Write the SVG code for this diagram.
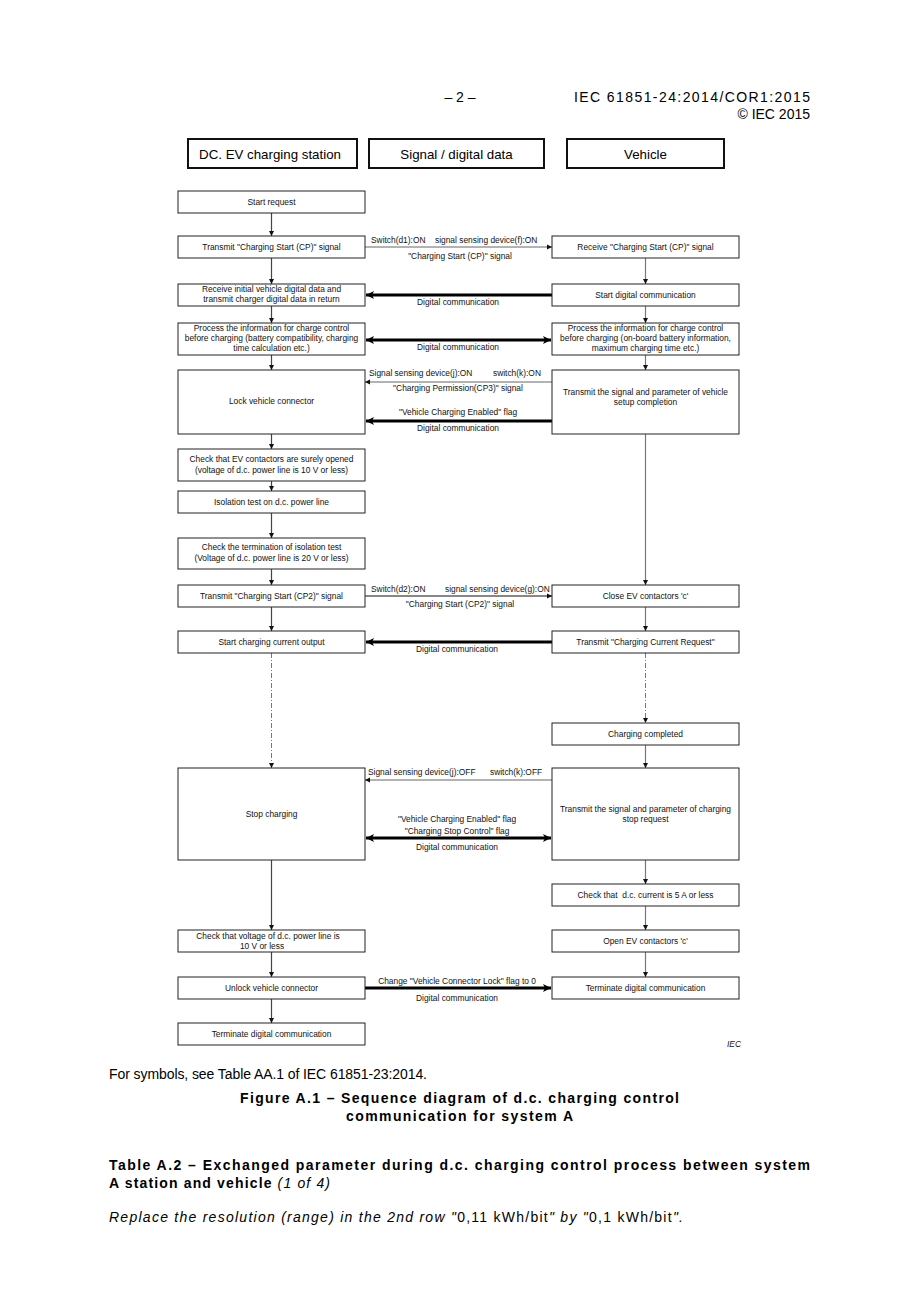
<svg xmlns="http://www.w3.org/2000/svg" width="920" height="1302" viewBox="0 0 920 1302">
<style>
.bg{fill:#fff}
.box{fill:#fff;stroke:#222;stroke-width:1}
.hdr{fill:#fff;stroke:#111;stroke-width:2}
.t{font-family:"Liberation Sans",Arial,sans-serif;font-size:8.4px;fill:#111;text-anchor:middle}
.l{font-family:"Liberation Sans",Arial,sans-serif;font-size:8.4px;fill:#111}
.h{font-family:"Liberation Sans",Arial,sans-serif;font-size:13.3px;fill:#000;text-anchor:middle}
.pg{font-family:"Liberation Sans",Arial,sans-serif;font-size:14px;fill:#000}
.fl{stroke:#444;stroke-width:1.2;fill:none;marker-end:url(#ah)}
.flr{stroke:#777;stroke-width:1.2;fill:none;marker-end:url(#ah)}
.dd{stroke:#777;stroke-width:1;fill:none;stroke-dasharray:5 2 1 2;marker-end:url(#ah)}
.sig{stroke:#666;stroke-width:1;fill:none;marker-end:url(#ah)}
.sigd{stroke:#111;stroke-width:1.2;fill:none;marker-end:url(#ah)}
.dig{stroke:#000;stroke-width:3;fill:none;marker-end:url(#ahb)}
.dig2{stroke:#000;stroke-width:3;fill:none;marker-end:url(#ahb);marker-start:url(#ahbs)}
</style>
<defs>
<marker id="ah" markerUnits="userSpaceOnUse" markerWidth="6" markerHeight="6" refX="5" refY="3" orient="auto"><path d="M0,0.5 L5,3 L0,5.5 z" fill="#111"/></marker>
<marker id="ahb" markerUnits="userSpaceOnUse" markerWidth="10" markerHeight="10" refX="8" refY="5" orient="auto"><path d="M0,1 L8,5 L0,9 L2,5 z" fill="#000"/></marker>
<marker id="ahbs" markerUnits="userSpaceOnUse" markerWidth="10" markerHeight="10" refX="0" refY="5" orient="auto"><path d="M8,1 L0,5 L8,9 L6,5 z" fill="#000"/></marker>
</defs>
<rect class="bg" x="0" y="0" width="920" height="1302"/>

<g id="page-header">
<text class="pg" x="460" y="102" text-anchor="middle" font-size="15">– 2 –</text>
<text class="pg" x="574" y="102" font-size="15" textLength="236" lengthAdjust="spacing">IEC 61851-24:2014/COR1:2015</text>
<text class="pg" x="810" y="119" text-anchor="end" font-size="15">© IEC 2015</text>
</g>

<g id="hdr-station"><rect class="hdr" x="188" y="139" width="169" height="29"/><text class="h" x="270" y="159">DC. EV charging station</text></g>
<g id="hdr-signal"><rect class="hdr" x="369" y="139" width="175" height="29"/><text class="h" x="456.5" y="159">Signal / digital data</text></g>
<g id="hdr-vehicle"><rect class="hdr" x="567" y="139" width="157" height="29"/><text class="h" x="645.5" y="159">Vehicle</text></g>

<g id="connectors">
<line class="fl" x1="271.5" y1="213" x2="271.5" y2="236"/>
<line class="fl" x1="271.5" y1="258" x2="271.5" y2="284"/>
<line class="fl" x1="271.5" y1="306" x2="271.5" y2="323"/>
<line class="fl" x1="271.5" y1="355" x2="271.5" y2="370"/>
<line class="fl" x1="271.5" y1="434" x2="271.5" y2="449"/>
<line class="fl" x1="271.5" y1="481" x2="271.5" y2="491"/>
<line class="fl" x1="271.5" y1="513" x2="271.5" y2="538"/>
<line class="fl" x1="271.5" y1="569" x2="271.5" y2="585"/>
<line class="fl" x1="271.5" y1="607" x2="271.5" y2="631"/>
<line class="dd" x1="271.5" y1="653" x2="271.5" y2="768"/>
<line class="fl" x1="271.5" y1="860" x2="271.5" y2="930"/>
<line class="fl" x1="271.5" y1="952" x2="271.5" y2="977"/>
<line class="fl" x1="271.5" y1="999" x2="271.5" y2="1023"/>
<line class="flr" x1="645.5" y1="258" x2="645.5" y2="284"/>
<line class="flr" x1="645.5" y1="306" x2="645.5" y2="323"/>
<line class="flr" x1="645.5" y1="355" x2="645.5" y2="370"/>
<line class="flr" x1="645.5" y1="434" x2="645.5" y2="585"/>
<line class="flr" x1="645.5" y1="607" x2="645.5" y2="631"/>
<line class="dd" x1="645.5" y1="653" x2="645.5" y2="723"/>
<line class="flr" x1="645.5" y1="745" x2="645.5" y2="768"/>
<line class="flr" x1="645.5" y1="860" x2="645.5" y2="884"/>
<line class="flr" x1="645.5" y1="906" x2="645.5" y2="930"/>
<line class="flr" x1="645.5" y1="952" x2="645.5" y2="977"/>

<line class="sig" x1="365" y1="247" x2="552" y2="247"/>
<text class="l" x="371" y="243">Switch(d1):ON</text>
<text class="l" x="435" y="243">signal sensing device(f):ON</text>
<text class="t" x="460" y="259">"Charging Start (CP)" signal</text>

<line class="dig" x1="552" y1="295" x2="366" y2="295"/>
<text class="t" x="458" y="305">Digital communication</text>

<line class="dig2" x1="366" y1="340" x2="551" y2="340"/>
<text class="t" x="458" y="350">Digital communication</text>

<line class="sig" x1="552" y1="382" x2="365" y2="382"/>
<text class="l" x="369" y="376">Signal sensing device(j):ON</text>
<text class="l" x="493" y="376">switch(k):ON</text>
<text class="t" x="458" y="391">"Charging Permission(CP3)" signal</text>

<line class="dig" x1="552" y1="421" x2="366" y2="421"/>
<text class="t" x="458" y="415">"Vehicle Charging Enabled" flag</text>
<text class="t" x="458" y="431">Digital communication</text>

<line class="sigd" x1="365" y1="596" x2="552" y2="596"/>
<text class="l" x="371" y="592">Switch(d2):ON</text>
<text class="l" x="445" y="592">signal sensing device(g):ON</text>
<text class="t" x="460" y="607">"Charging Start (CP2)" signal</text>

<line class="dig" x1="552" y1="642" x2="366" y2="642"/>
<text class="t" x="457" y="652">Digital communication</text>

<line class="sig" x1="552" y1="780" x2="365" y2="780"/>
<text class="l" x="368" y="775">Signal sensing device(j):OFF</text>
<text class="l" x="490" y="775">switch(k):OFF</text>

<line class="dig2" x1="366" y1="838" x2="551" y2="838"/>
<text class="t" x="457" y="822">"Vehicle Charging Enabled" flag</text>
<text class="t" x="457" y="834">"Charging Stop Control" flag</text>
<text class="t" x="457" y="850">Digital communication</text>

<line class="dig" x1="365" y1="988" x2="551" y2="988"/>
<text class="t" x="457" y="984">Change "Vehicle Connector Lock" flag to 0</text>
<text class="t" x="457" y="1001">Digital communication</text>
</g>

<g id="n-start-request"><rect class="box" x="178" y="191" width="187" height="22"/><text class="t" x="271.5" y="205">Start request</text></g>
<g id="n-transmit-cp"><rect class="box" x="178" y="236" width="187" height="22"/><text class="t" x="271.5" y="250">Transmit "Charging Start (CP)" signal</text></g>
<g id="n-receive-initial"><rect class="box" x="178" y="284" width="187" height="22"/><text class="t" x="271.5" y="292">Receive initial vehicle digital data and</text><text class="t" x="271.5" y="302">transmit charger digital data in return</text></g>
<g id="n-process-station"><rect class="box" x="178" y="323" width="187" height="32"/><text class="t" x="271.5" y="331">Process the information for charge control</text><text class="t" x="271.5" y="341">before charging (battery compatibility, charging</text><text class="t" x="271.5" y="351">time calculation etc.)</text></g>
<g id="n-lock"><rect class="box" x="178" y="370" width="187" height="64"/><text class="t" x="271.5" y="404">Lock vehicle connector</text></g>
<g id="n-check-contactors"><rect class="box" x="178" y="449" width="187" height="32"/><text class="t" x="271.5" y="462">Check that EV contactors are surely opened</text><text class="t" x="271.5" y="473">(voltage of d.c. power line is 10 V or less)</text></g>
<g id="n-isolation"><rect class="box" x="178" y="491" width="187" height="22"/><text class="t" x="271.5" y="505">Isolation test on d.c. power line</text></g>
<g id="n-check-termination"><rect class="box" x="178" y="538" width="187" height="31"/><text class="t" x="271.5" y="550">Check the termination of isolation test</text><text class="t" x="271.5" y="561">(Voltage of d.c. power line is 20 V or less)</text></g>
<g id="n-transmit-cp2"><rect class="box" x="178" y="585" width="187" height="22"/><text class="t" x="271.5" y="599">Transmit "Charging Start (CP2)" signal</text></g>
<g id="n-start-output"><rect class="box" x="178" y="631" width="187" height="22"/><text class="t" x="271.5" y="645">Start charging current output</text></g>
<g id="n-stop-charging"><rect class="box" x="178" y="768" width="187" height="92"/><text class="t" x="271.5" y="817">Stop charging</text></g>
<g id="n-check-voltage"><rect class="box" x="178" y="930" width="187" height="22"/><text class="t" x="268" y="939">Check that voltage of d.c. power line is</text><text class="t" x="262" y="949">10 V or less</text></g>
<g id="n-unlock"><rect class="box" x="178" y="977" width="187" height="22"/><text class="t" x="271.5" y="991">Unlock vehicle connector</text></g>
<g id="n-terminate-station"><rect class="box" x="178" y="1023" width="187" height="22"/><text class="t" x="271.5" y="1037">Terminate digital communication</text></g>

<g id="n-receive-cp"><rect class="box" x="552" y="236" width="187" height="22"/><text class="t" x="645.5" y="250">Receive "Charging Start (CP)" signal</text></g>
<g id="n-start-digital"><rect class="box" x="552" y="284" width="187" height="22"/><text class="t" x="645.5" y="298">Start digital communication</text></g>
<g id="n-process-vehicle"><rect class="box" x="552" y="323" width="187" height="32"/><text class="t" x="645.5" y="331">Process the information for charge control</text><text class="t" x="645.5" y="341">before charging (on-board battery information,</text><text class="t" x="645.5" y="351">maximum charging time etc.)</text></g>
<g id="n-setup-complete"><rect class="box" x="552" y="370" width="187" height="64"/><text class="t" x="645.5" y="395">Transmit the signal and parameter of vehicle</text><text class="t" x="645.5" y="405">setup completion</text></g>
<g id="n-close-contactors"><rect class="box" x="552" y="585" width="187" height="22"/><text class="t" x="645.5" y="599">Close EV contactors 'c'</text></g>
<g id="n-current-request"><rect class="box" x="552" y="631" width="187" height="22"/><text class="t" x="645.5" y="645">Transmit "Charging Current Request"</text></g>
<g id="n-charging-completed"><rect class="box" x="552" y="723" width="187" height="22"/><text class="t" x="645.5" y="737">Charging completed</text></g>
<g id="n-stop-request"><rect class="box" x="552" y="768" width="187" height="92"/><text class="t" x="645.5" y="812">Transmit the signal and parameter of charging</text><text class="t" x="645.5" y="822">stop request</text></g>
<g id="n-check-current"><rect class="box" x="552" y="884" width="187" height="22"/><text class="t" x="645.5" y="898" xml:space="preserve">Check that  d.c. current is 5 A or less</text></g>
<g id="n-open-contactors"><rect class="box" x="552" y="930" width="187" height="22"/><text class="t" x="645.5" y="944">Open EV contactors 'c'</text></g>
<g id="n-terminate-vehicle"><rect class="box" x="552" y="977" width="187" height="22"/><text class="t" x="645.5" y="991">Terminate digital communication</text></g>

<g id="iec-mark"><text class="l" x="727" y="1047" font-style="italic" font-size="7.5">IEC</text></g>

<g id="captions">
<text class="pg" x="109" y="1079" font-size="12" textLength="318" lengthAdjust="spacing">For symbols, see Table AA.1 of IEC 61851-23:2014.</text>
<text class="pg" x="240" y="1103" font-size="15" font-weight="bold" textLength="439" lengthAdjust="spacing">Figure A.1 – Sequence diagram of d.c. charging control</text>
<text class="pg" x="346" y="1121" font-size="15" font-weight="bold" textLength="227" lengthAdjust="spacing">communication for system A</text>
<text class="pg" x="109" y="1170" font-size="15" font-weight="bold" textLength="701" lengthAdjust="spacing">Table A.2 – Exchanged parameter during d.c. charging control process between system</text>
<text class="pg" x="109" y="1188" font-size="15" textLength="221" lengthAdjust="spacing"><tspan font-weight="bold">A station and vehicle </tspan><tspan font-style="italic">(1 of 4)</tspan></text>
<text class="pg" x="109" y="1222" font-size="15" textLength="574" lengthAdjust="spacing"><tspan font-style="italic">Replace the resolution (range) in the 2nd row "</tspan><tspan>0,11 kWh/bit</tspan><tspan font-style="italic">" by "</tspan><tspan>0,1 kWh/bit</tspan><tspan font-style="italic">".</tspan></text>
</g>
</svg>
